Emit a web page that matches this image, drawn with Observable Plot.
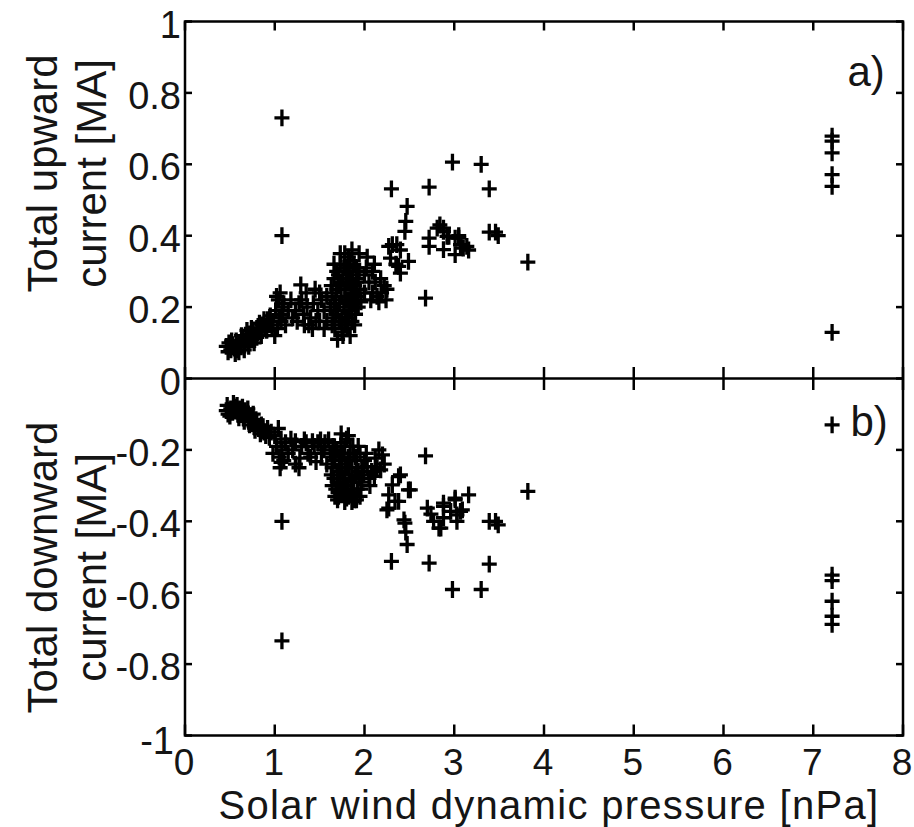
<!DOCTYPE html>
<html><head><meta charset="utf-8">
<script src="https://cdn.jsdelivr.net/npm/d3@7"></script>
<script src="https://cdn.jsdelivr.net/npm/@observablehq/plot@0.6"></script>
<style>body{margin:0;background:#fff}</style>
</head><body><div id="chart"></div>
<script>
const xLabel = "Solar wind dynamic pressure [nPa]";
const upTitle = "Total upward\ncurrent [MA]";
const downTitle = "Total downward\ncurrent [MA]";
const panelLabels = ["a)", "b)"];
const xTicks = [0,1,2,3,4,5,6,7,8];
const xTickLabels = ["0","1","2","3","4","5","6","7","8"];
const yTicks = [1,0.8,0.6,0.4,0.2,0,-0.2,-0.4,-0.6,-0.8,-1];
const yTickLabels = ["1","0.8","0.6","0.4","0.2","0","-0.2","-0.4","-0.6","-0.8","-1"];

// [pressure nPa, total upward current MA]
const upward = [
[0.46,0.09],[0.49,0.10],[0.51,0.08],[0.53,0.095],[0.55,0.085],[0.57,0.105],[0.58,0.08],[0.60,0.10],[0.62,0.09],[0.64,0.11],[0.66,0.095],[0.68,0.115],[0.70,0.10],[0.72,0.125],[0.74,0.11],[0.76,0.13],[0.78,0.12],[0.80,0.14],[0.83,0.13],[0.86,0.15],[0.89,0.145],[0.92,0.165],[0.94,0.15],
[0.48,0.075],[0.52,0.105],[0.56,0.07],[0.60,0.075],[0.63,0.12],[0.66,0.08],[0.69,0.135],[0.71,0.09],[0.74,0.14],[0.77,0.10],[0.80,0.115],[0.83,0.155],[0.85,0.12],[0.88,0.165],[0.91,0.135],[0.95,0.175],[0.97,0.14],
[1.00,0.12],[1.03,0.14],[0.98,0.16],[1.05,0.17],[1.01,0.19],[1.08,0.20],[1.04,0.22],[1.07,0.16],[1.06,0.24],[1.09,0.18],[1.08,0.73],[1.08,0.40],
[1.29,0.262],[1.23,0.19],[1.27,0.21],[1.20,0.17],[1.32,0.18],[1.36,0.20],[1.40,0.17],[1.45,0.25],[1.42,0.14],[1.48,0.19],[1.52,0.22],[1.55,0.14],[1.50,0.16],[1.38,0.15],
[1.02,0.23],[1.10,0.21],[1.12,0.15],[1.15,0.19],[1.18,0.22],[1.25,0.16],[1.30,0.22],[1.33,0.15],[1.35,0.24],[1.43,0.21],[1.46,0.16],[1.50,0.24],[1.55,0.19],[1.58,0.23],[1.58,0.16],
[1.62,0.20],[1.64,0.24],[1.65,0.17],[1.66,0.28],[1.67,0.14],[1.68,0.22],[1.69,0.30],[1.70,0.19],[1.71,0.26],[1.72,0.16],[1.73,0.32],[1.74,0.23],[1.75,0.13],[1.76,0.28],[1.77,0.20],[1.78,0.25],[1.79,0.17],[1.80,0.31],[1.81,0.22],[1.81,0.14],[1.82,0.27],[1.83,0.19],[1.84,0.33],[1.85,0.24],[1.86,0.16],[1.87,0.29],[1.88,0.21],[1.89,0.26],[1.90,0.18],[1.91,0.31],[1.92,0.23],[1.93,0.28],[1.95,0.25],[1.76,0.12],[1.70,0.11],[1.84,0.12],[1.66,0.32],[1.78,0.35],[1.94,0.35],[1.82,0.34],
[1.63,0.26],[1.64,0.15],[1.66,0.21],[1.68,0.18],[1.69,0.25],[1.71,0.29],[1.72,0.21],[1.74,0.27],[1.75,0.17],[1.77,0.31],[1.78,0.15],[1.79,0.22],[1.80,0.27],[1.82,0.17],[1.83,0.30],[1.84,0.22],[1.85,0.28],[1.86,0.20],[1.87,0.25],[1.88,0.32],[1.89,0.15],[1.90,0.22],[1.91,0.27],[1.93,0.20],[1.94,0.30],[1.73,0.35],[1.86,0.36],
[2.03,0.34],[2.09,0.30],[2.14,0.23],[2.22,0.26],[2.16,0.215],[2.05,0.27],[2.09,0.24],[1.96,0.215],[2.00,0.29],[2.12,0.27],[2.19,0.24],[2.25,0.25],
[2.02,0.31],[2.07,0.22],[2.11,0.32],[2.18,0.28],[2.24,0.22],[2.00,0.24],
[2.27,0.37],[2.31,0.375],[2.36,0.375],[2.40,0.36],[2.29,0.337],[2.35,0.32],[2.38,0.314],[2.40,0.295],[2.49,0.328],[2.475,0.482],[2.46,0.44],[2.45,0.412],[2.30,0.531],
[2.72,0.393],[2.72,0.37],[2.81,0.421],[2.84,0.43],[2.88,0.412],[2.88,0.421],[2.94,0.398],[2.88,0.361],[2.92,0.398],[3.01,0.393],[3.05,0.40],[3.07,0.375],[3.14,0.37],[3.01,0.347],[3.10,0.365],[3.16,0.36],[3.05,0.393],
[2.72,0.536],[2.68,0.225],[2.98,0.606],[3.30,0.60],[3.39,0.531],[3.39,0.41],[3.46,0.41],[3.49,0.40],[3.82,0.326],
[7.21,0.679],[7.21,0.665],[7.21,0.632],[7.21,0.571],[7.21,0.538],[7.21,0.129]
];

// [pressure nPa, total downward current MA]
const downward = [
[0.46,-0.09],[0.48,-0.10],[0.51,-0.085],[0.53,-0.095],[0.55,-0.08],[0.57,-0.09],[0.59,-0.10],[0.61,-0.085],[0.63,-0.095],[0.65,-0.11],[0.67,-0.09],[0.69,-0.10],[0.71,-0.12],[0.73,-0.105],[0.75,-0.12],[0.77,-0.135],[0.79,-0.115],[0.82,-0.14],[0.85,-0.13],[0.88,-0.15],[0.92,-0.14],
[0.47,-0.075],[0.50,-0.105],[0.54,-0.07],[0.58,-0.075],[0.60,-0.11],[0.64,-0.08],[0.66,-0.12],[0.70,-0.085],[0.72,-0.13],[0.76,-0.10],[0.78,-0.145],[0.80,-0.125],[0.84,-0.155],[0.87,-0.135],[0.90,-0.16],[0.94,-0.165],[0.96,-0.15],
[1.04,-0.14],[1.00,-0.16],[1.07,-0.17],[1.02,-0.19],[1.08,-0.20],[0.98,-0.21],[1.05,-0.22],[1.07,-0.235],[1.06,-0.25],[1.08,-0.40],[1.08,-0.735],
[1.23,-0.177],[1.33,-0.172],[1.42,-0.177],[1.51,-0.172],[1.60,-0.172],[1.28,-0.223],[1.37,-0.21],[1.46,-0.233],[1.23,-0.24],[1.27,-0.25],[1.52,-0.21],
[1.12,-0.18],[1.15,-0.21],[1.18,-0.17],[1.20,-0.20],[1.30,-0.19],[1.35,-0.18],[1.40,-0.22],[1.44,-0.19],[1.48,-0.18],[1.55,-0.20],[1.58,-0.24],[1.56,-0.18],[1.10,-0.23],
[1.62,-0.21],[1.64,-0.25],[1.65,-0.19],[1.66,-0.28],[1.67,-0.23],[1.68,-0.31],[1.69,-0.20],[1.70,-0.26],[1.71,-0.33],[1.72,-0.22],[1.73,-0.29],[1.74,-0.18],[1.75,-0.25],[1.76,-0.32],[1.77,-0.21],[1.78,-0.28],[1.79,-0.24],[1.80,-0.335],[1.80,-0.17],[1.81,-0.30],[1.82,-0.22],[1.83,-0.27],[1.84,-0.19],[1.85,-0.32],[1.86,-0.25],[1.87,-0.29],[1.88,-0.21],[1.89,-0.34],[1.90,-0.27],[1.91,-0.23],[1.92,-0.31],[1.93,-0.19],[1.94,-0.28],[1.95,-0.33],[1.97,-0.25],[1.97,-0.29],[1.70,-0.34],[1.78,-0.345],[1.86,-0.345],[1.64,-0.30],
[1.63,-0.27],[1.65,-0.22],[1.67,-0.33],[1.68,-0.20],[1.70,-0.29],[1.72,-0.25],[1.73,-0.32],[1.75,-0.21],[1.76,-0.28],[1.78,-0.19],[1.79,-0.31],[1.81,-0.25],[1.82,-0.33],[1.84,-0.23],[1.85,-0.29],[1.87,-0.19],[1.88,-0.31],[1.90,-0.22],[1.91,-0.34],[1.93,-0.26],[1.95,-0.21],[1.96,-0.31],[1.99,-0.27],[1.74,-0.155],[1.82,-0.16],
[2.03,-0.247],[2.12,-0.223],[2.20,-0.214],[2.18,-0.256],[2.11,-0.274],[2.06,-0.30],[2.16,-0.20],[2.02,-0.21],
[2.08,-0.26],[2.14,-0.25],[2.22,-0.24],[2.05,-0.28],[2.00,-0.23],
[2.40,-0.27],[2.31,-0.298],[2.51,-0.312],[2.27,-0.326],[2.34,-0.344],[2.25,-0.368],[2.44,-0.396],[2.38,-0.275],[2.49,-0.312],[2.27,-0.363],[2.38,-0.344],[2.45,-0.405],[2.475,-0.465],[2.46,-0.43],[2.30,-0.512],
[2.70,-0.363],[2.77,-0.40],[2.83,-0.419],[2.88,-0.358],[2.96,-0.372],[3.01,-0.335],[3.03,-0.382],[3.09,-0.368],[3.16,-0.326],[2.88,-0.349],[3.01,-0.34],[3.07,-0.372],[3.03,-0.40],[2.88,-0.39],[2.85,-0.419],[2.74,-0.38],
[2.68,-0.217],[2.72,-0.517],[2.98,-0.591],[3.30,-0.591],[3.39,-0.520],[3.39,-0.40],[3.46,-0.40],[3.49,-0.41],[3.82,-0.316],
[7.21,-0.130],[7.21,-0.551],[7.21,-0.566],[7.21,-0.624],[7.21,-0.666],[7.21,-0.689]
];

const cross = {draw(ctx, size) {
  const r = Math.sqrt(size / Math.PI);
  ctx.moveTo(-r, 0); ctx.lineTo(r, 0);
  ctx.moveTo(0, -r * 1.12); ctx.lineTo(0, r * 1.12);
}};
const tickSym = (a, b, c, d) => ({draw(ctx, size) {
  const r = Math.sqrt(size / Math.PI);
  ctx.moveTo(a * r, b * r); ctx.lineTo(c * r, d * r);
}});
const tickUp = tickSym(0, 0, 0, -1);
const tickDown = tickSym(0, 0, 0, 1);
const tickBoth = tickSym(0, -1, 0, 1);
const tickRight = tickSym(0, 0, 1, 0);
const tickLeft = tickSym(0, 0, -1, 0);

const font = "'Liberation Sans', Arial, Helvetica, sans-serif";
const lw = 2.5;
const tk = {stroke: "black", strokeWidth: lw, fill: "none"};
const txt = "#151515";

const chart = Plot.plot({
  width: 914,
  height: 827,
  marginTop: 21,
  marginBottom: 92,
  marginLeft: 184.5,
  marginRight: 11.5,
  style: {fontFamily: font, background: "#fff", color: "#000"},
  x: {domain: [0, 8], axis: null},
  y: {domain: [-1, 1], axis: null},
  marks: [
    Plot.frame({stroke: "black", strokeWidth: lw}),
    Plot.ruleY([0], {stroke: "black", strokeWidth: lw}),
    Plot.dot(xTicks, {x: d => d, frameAnchor: "bottom", symbol: tickUp, r: 11, ...tk}),
    Plot.dot(xTicks, {x: d => d, frameAnchor: "top", symbol: tickDown, r: 9, ...tk}),
    Plot.dot(xTicks, {x: d => d, y: () => 0, symbol: tickBoth, r: 11.5, ...tk}),
    Plot.dot(yTicks, {y: d => d, frameAnchor: "left", symbol: tickRight, r: 7, ...tk}),
    Plot.dot(yTicks, {y: d => d, frameAnchor: "right", symbol: tickLeft, r: 7, ...tk}),
    Plot.dot(upward, {x: d => d[0], y: d => d[1], symbol: cross, r: 7.5, stroke: "black", strokeWidth: 3.3, fill: "none"}),
    Plot.dot(downward, {x: d => d[0], y: d => d[1], symbol: cross, r: 7.5, stroke: "black", strokeWidth: 3.3, fill: "none"}),
    Plot.text(yTicks.slice(0, -1), {y: d => d, text: (d, i) => yTickLabels[i], frameAnchor: "left", textAnchor: "end", lineAnchor: "bottom", dx: -4, dy: 16, fontSize: 38, fill: txt}),
    Plot.text(yTicks.slice(-1), {y: d => d, text: () => yTickLabels[yTickLabels.length - 1], frameAnchor: "left", textAnchor: "end", lineAnchor: "bottom", dx: -11, dy: 18, fontSize: 38, fill: txt}),
    Plot.text(xTicks, {x: d => d, text: (d, i) => xTickLabels[i], frameAnchor: "bottom", textAnchor: "middle", lineAnchor: "bottom", dx: -1, dy: 39.5, fontSize: 37, fill: txt}),
    Plot.text([xLabel], {text: d => d, frameAnchor: "bottom", textAnchor: "middle", lineAnchor: "bottom", dx: 5, dy: 83.8, fontSize: 40, fill: txt}),
    Plot.text([upTitle], {text: d => d, frameAnchor: "left", textAnchor: "middle", rotate: -90, lineAnchor: "middle", lineHeight: 1.15, dx: -119, dy: -205, fontSize: 42, fill: txt}),
    Plot.text([downTitle], {text: d => d, frameAnchor: "left", textAnchor: "middle", rotate: -90, lineAnchor: "middle", lineHeight: 1.15, dx: -119, dy: 189, fontSize: 42, fill: txt}),
    Plot.text([panelLabels[0]], {text: d => d, frameAnchor: "top-right", textAnchor: "start", lineAnchor: "bottom", dx: -55.5, dy: 64, fontSize: 42, fill: txt}),
    Plot.text([panelLabels[1]], {text: d => d, frameAnchor: "top-right", textAnchor: "start", lineAnchor: "bottom", dx: -52.5, dy: 414, fontSize: 42, fill: txt})
  ]
});
// widen the x-axis title slightly to the reference's letter spacing
chart.querySelectorAll("text").forEach(t => {
  if (t.textContent === xLabel) t.style.letterSpacing = "1.3px";
});
document.getElementById("chart").appendChild(chart);
</script>
</body></html>
